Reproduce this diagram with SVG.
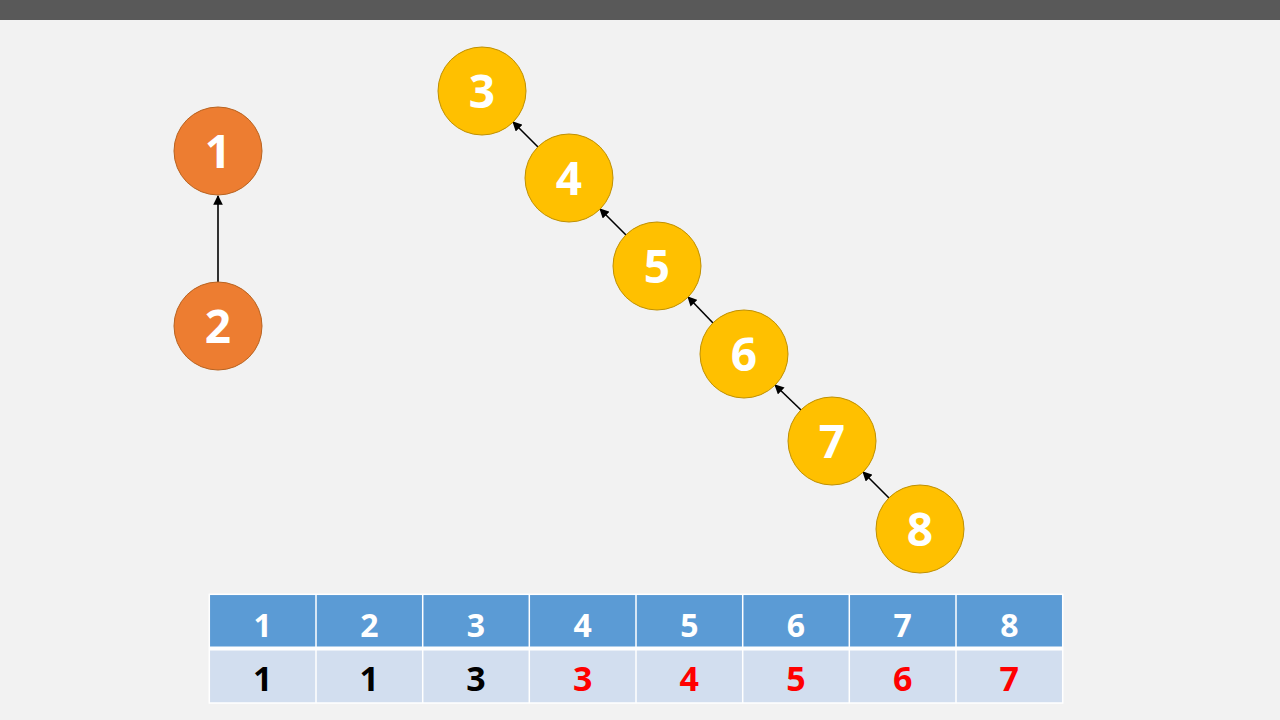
<svg xmlns="http://www.w3.org/2000/svg" width="1280" height="720" viewBox="0 0 1280 720">
<style>
.bg{fill:#F2F2F2}
.orange{fill:#ED7D31;stroke:#B8621F;stroke-width:1}
.gold{fill:#FFC000;stroke:#BF9000;stroke-width:1}
.nt{font-family:"Open Sans","Noto Sans",sans-serif;font-weight:bold;font-size:46px;fill:#FFFFFF;text-anchor:middle}
.edge{stroke:#000;stroke-width:1.6;fill:none;marker-end:url(#ah)}
.hd{fill:#5B9BD5}
.rw{fill:#D2DEEF}
.grid{stroke:#FFFFFF;stroke-width:1.5;fill:none}
.ht{font-family:"Open Sans","Noto Sans",sans-serif;font-weight:bold;font-size:32px;fill:#FFFFFF;text-anchor:middle}
.rt{font-family:"Open Sans","Noto Sans",sans-serif;font-weight:bold;font-size:34px;fill:#000;text-anchor:middle}
.red{fill:#FF0000}
</style>
<defs>
<marker id="ah" viewBox="0 0 10 10" refX="9" refY="5" markerWidth="6" markerHeight="6" orient="auto" markerUnits="strokeWidth">
<path d="M0,0 L10,5 L0,10 z" fill="#000"/>
</marker>
</defs>
<rect class="bg" x="0" y="0" width="1280" height="720"/>
<rect x="0" y="0" width="1280" height="20" fill="#595959"/>

<g id="connectors">
<line class="edge" x1="218" y1="282" x2="218" y2="196"/>
<line class="edge" x1="538" y1="147" x2="513" y2="122"/>
<line class="edge" x1="626" y1="235" x2="600" y2="209"/>
<line class="edge" x1="713" y1="323" x2="688" y2="297"/>
<line class="edge" x1="801" y1="410" x2="775" y2="385"/>
<line class="edge" x1="889" y1="498" x2="863" y2="472"/>
</g>

<g id="node1"><circle class="orange" cx="218" cy="151" r="44"/><text class="nt" x="218" y="168">1</text></g>
<g id="node2"><circle class="orange" cx="218" cy="326" r="44"/><text class="nt" x="218" y="343">2</text></g>
<g id="node3"><circle class="gold" cx="482" cy="91" r="44"/><text class="nt" x="482" y="108">3</text></g>
<g id="node4"><circle class="gold" cx="569" cy="178" r="44"/><text class="nt" x="569" y="195">4</text></g>
<g id="node5"><circle class="gold" cx="657" cy="266" r="44"/><text class="nt" x="657" y="283">5</text></g>
<g id="node6"><circle class="gold" cx="744" cy="354" r="44"/><text class="nt" x="744" y="371">6</text></g>
<g id="node7"><circle class="gold" cx="832" cy="441" r="44"/><text class="nt" x="832" y="458">7</text></g>
<g id="node8"><circle class="gold" cx="920" cy="529" r="44"/><text class="nt" x="920" y="546">8</text></g>

<g id="table">
<rect class="hd" x="209.3" y="594.3" width="853.4" height="54"/>
<rect class="rw" x="209.3" y="648.3" width="853.4" height="54.7"/>
<line x1="209.3" y1="648.5" x2="1062.7" y2="648.5" stroke="#FFFFFF" stroke-width="4"/>
<g class="grid">
<rect x="209.3" y="594.3" width="853.4" height="108.7"/>
<line x1="316" y1="594.3" x2="316" y2="703"/>
<line x1="422.7" y1="594.3" x2="422.7" y2="703"/>
<line x1="529.3" y1="594.3" x2="529.3" y2="703"/>
<line x1="636" y1="594.3" x2="636" y2="703"/>
<line x1="742.7" y1="594.3" x2="742.7" y2="703"/>
<line x1="849.3" y1="594.3" x2="849.3" y2="703"/>
<line x1="956" y1="594.3" x2="956" y2="703"/>
</g>
<text class="ht" x="262.7" y="636.5">1</text>
<text class="ht" x="369.3" y="636.5">2</text>
<text class="ht" x="476" y="636.5">3</text>
<text class="ht" x="582.7" y="636.5">4</text>
<text class="ht" x="689.3" y="636.5">5</text>
<text class="ht" x="796" y="636.5">6</text>
<text class="ht" x="902.7" y="636.5">7</text>
<text class="ht" x="1009.3" y="636.5">8</text>
<text class="rt" x="262.7" y="691">1</text>
<text class="rt" x="369.3" y="691">1</text>
<text class="rt" x="476" y="691">3</text>
<text class="rt red" x="582.7" y="691">3</text>
<text class="rt red" x="689.3" y="691">4</text>
<text class="rt red" x="796" y="691">5</text>
<text class="rt red" x="902.7" y="691">6</text>
<text class="rt red" x="1009.3" y="691">7</text>
</g>
</svg>
